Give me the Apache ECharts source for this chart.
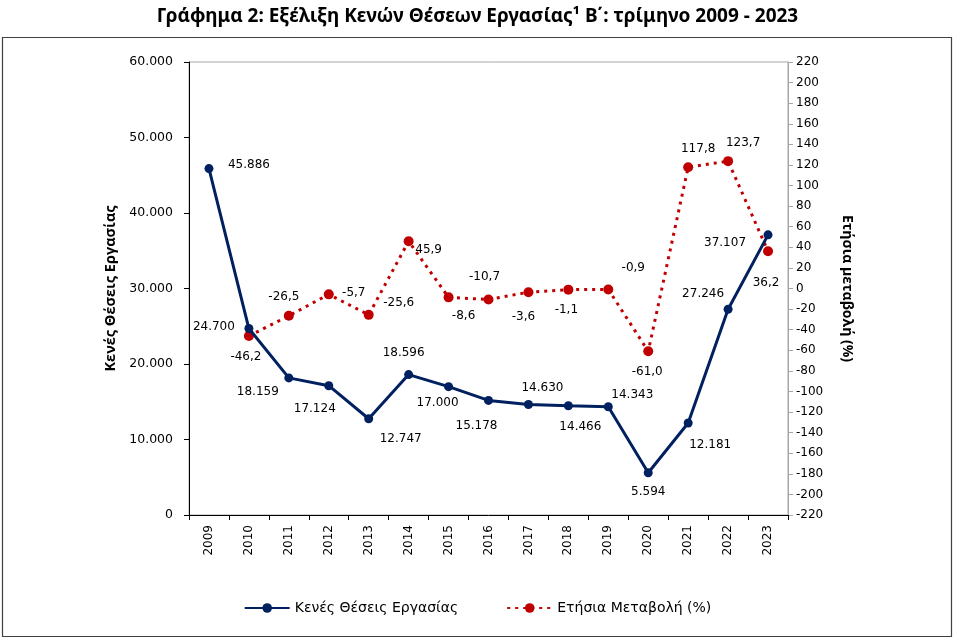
<!DOCTYPE html>
<html><head><meta charset="utf-8">
<script src="https://cdn.jsdelivr.net/npm/echarts@6/dist/echarts.min.js"></script>
<style>html,body{margin:0;padding:0;background:#fff}#c{width:955px;height:639px}</style>
</head><body><div id="c"></div>
<script>
const years = ['2009','2010','2011','2012','2013','2014','2015','2016','2017','2018','2019','2020','2021','2022','2023'];
const vacancies = [45886, 24700, 18159, 17124, 12747, 18596, 17000, 15178, 14630, 14466, 14343, 5594, 12181, 27246, 37107];
const annualChange = [null, -46.2, -26.5, -5.7, -25.6, 45.9, -8.6, -10.7, -3.6, -1.1, -0.9, -61.0, 117.8, 123.7, 36.2];
const leftTicks = {min: 0, max: 60000, interval: 10000};
const rightTicks = {min: -220, max: 220, interval: 20};

// label offsets (style only)
const vacLabelOffset = [[40,-4],[-35,-2],[-31,14],[-14,23],[32,20],[-5,-22],[-11,16],[-12,25],[14,-17],[12,21],[24,-12],[0,19],[22,22],[-25,-15],[-43,8]];
const chgLabelOffset = [[0,0],[-3,21],[-5,-19],[25,-1],[30,-12],[20,9],[15,19],[-4,-23],[-5,25],[-2,20],[25,-22],[-1,21],[10,-18],[15,-18],[-2,32]];

const fmtThousands = v => String(Math.round(v)).replace(/\B(?=(\d{3})+(?!\d))/g, '.');
const fmtDec = v => v.toFixed(1).replace('.', ',');
const FONT = 'DejaVu Sans';

const chart = echarts.init(document.getElementById('c'), null, {renderer: 'canvas'});
chart.setOption({
  animation: false,
  backgroundColor: '#fff',
  title: {
    text: 'Γράφημα 2: Εξέλιξη Κενών Θέσεων Εργασίας¹ Β΄: τρίμηνο 2009 - 2023',
    left: 'center', top: 2,
    textStyle: {fontFamily: 'Noto Sans', fontWeight: 'bold', fontSize: 19, color: '#000'}
  },
  graphic: [{
    type: 'rect', shape: {x: 2.5, y: 37.5, width: 949, height: 599},
    style: {fill: 'none', stroke: '#404040', lineWidth: 1.2}, z: -1
  }],
  grid: {left: 189, right: 167, top: 62, bottom: 124, show: true, borderColor: '#a6a6a6', borderWidth: 1},
  legend: {
    bottom: 19, left: 'center', itemGap: 48, itemWidth: 45, itemHeight: 12,
    textStyle: {fontFamily: FONT, fontSize: 14, color: '#000'},
    data: ['Κενές Θέσεις Εργασίας', 'Ετήσια Μεταβολή (%)']
  },
  xAxis: {
    type: 'category', data: years, boundaryGap: true,
    axisLine: {lineStyle: {color: '#000', width: 1}},
    axisTick: {show: true, length: 5, inside: false, lineStyle: {color: '#000'}},
    axisLabel: {rotate: 90, fontFamily: FONT, fontSize: 12, color: '#000', margin: 10, interval: 0}
  },
  yAxis: [{
    type: 'value', min: leftTicks.min, max: leftTicks.max, interval: leftTicks.interval,
    name: 'Κενές Θέσεις Εργασίας', nameLocation: 'middle', nameGap: 64,
    nameTextStyle: {fontFamily: 'Open Sans', fontWeight: 'bold', fontSize: 14.5, color: '#000'},
    axisLine: {show: true, lineStyle: {color: '#000'}},
    axisTick: {show: true, length: 5, lineStyle: {color: '#000'}},
    splitLine: {show: false},
    axisLabel: {fontFamily: FONT, fontSize: 12.5, color: '#000', margin: 16, formatter: fmtThousands}
  }, {
    type: 'value', position: 'right', min: rightTicks.min, max: rightTicks.max, interval: rightTicks.interval,
    name: 'Ετήσια μεταβολή (%)', nameLocation: 'middle', nameGap: 52, nameRotate: -90,
    nameTextStyle: {fontFamily: 'Open Sans', fontWeight: 'bold', fontSize: 14, color: '#000'},
    axisLine: {show: true, lineStyle: {color: '#a6a6a6'}},
    axisTick: {show: true, length: 5, lineStyle: {color: '#a6a6a6'}},
    splitLine: {show: false},
    axisLabel: {fontFamily: FONT, fontSize: 12, color: '#000', margin: 8}
  }],
  series: [{
    name: 'Κενές Θέσεις Εργασίας', type: 'line', yAxisIndex: 0, z: 3,
    symbol: 'circle', symbolSize: 9,
    lineStyle: {color: '#002060', width: 3},
    itemStyle: {color: '#002060'},
    label: {show: true, position: 'inside', fontFamily: FONT, fontSize: 12, color: '#000', formatter: p => fmtThousands(p.value)},
    data: vacancies.map((v, i) => ({value: v, label: {offset: vacLabelOffset[i]}}))
  }, {
    name: 'Ετήσια Μεταβολή (%)', type: 'line', yAxisIndex: 1, z: 2,
    symbol: 'circle', symbolSize: 10,
    lineStyle: {color: '#c00000', width: 3, type: [3, 5]},
    itemStyle: {color: '#c00000'},
    label: {show: true, position: 'inside', fontFamily: FONT, fontSize: 12, color: '#000', formatter: p => fmtDec(p.value)},
    data: annualChange.map((v, i) => ({value: v, label: {offset: chgLabelOffset[i]}}))
  }]
});
</script></body></html>
